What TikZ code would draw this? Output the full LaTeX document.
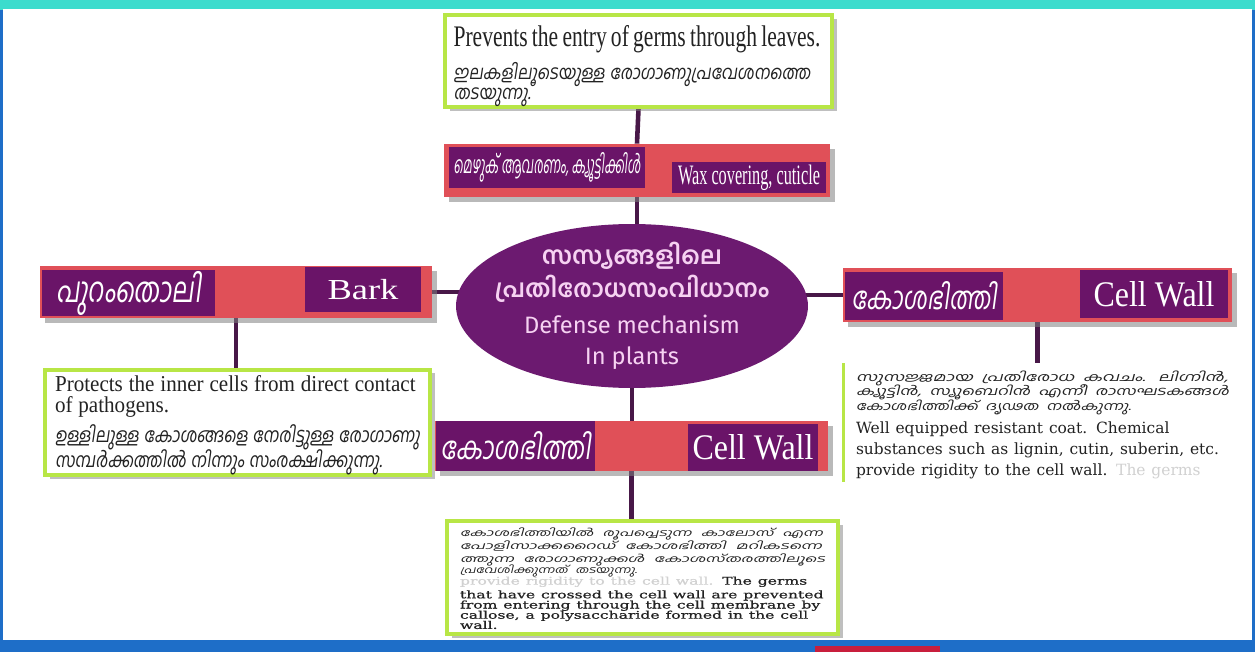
\documentclass[tikz,border=0pt]{standalone}
\usepackage{fontspec}
\usepackage{graphicx}
\usepackage{xcolor}
\setmainfont{Liberation Serif}
\newfontfamily\mlfont[Script=Malayalam]{Hind Kochi}
\newfontfamily\mlslant[Script=Malayalam,FakeSlant=0.18]{Hind Kochi}
\newfontfamily\noteserif[FakeStretch=0.93]{Liberation Serif}
\newfontfamily\wideserif{DejaVu Serif}
\newfontfamily\callosefont[FakeStretch=1.48,FakeBold=0.8]{DejaVu Serif}
\newfontfamily\ellsans{Fira Sans}
\usetikzlibrary{shapes.geometric, shadows, backgrounds}
\definecolor{barred}{RGB}{224,80,88}
\definecolor{tagpurple}{RGB}{106,20,104}
\definecolor{ellpurple}{RGB}{108,26,112}
\definecolor{linkpurple}{RGB}{72,24,72}
\definecolor{notegreen}{RGB}{184,230,70}
\definecolor{paleink}{RGB}{246,210,242}
\definecolor{topteal}{RGB}{60,220,205}
\definecolor{baseblue}{RGB}{30,110,200}
\definecolor{basered}{RGB}{200,30,60}
\definecolor{noteink}{RGB}{34,34,34}
\newcommand\fitline[2]{\resizebox{#1}{\height}{#2}}
\newcommand\spreadline[2]{\makebox[#1][s]{#2}}
\newcommand\topstrut[1]{\rule{0pt}{#1}}
\newcommand\bottomstrut[1]{\rule[-#1]{0pt}{#1}}

\begin{document}
\begin{tikzpicture}[x=0.02cm, y=-0.02cm,
    bar/.style={fill=barred, inner sep=0pt, drop shadow={shadow xshift=3pt, shadow yshift=-3pt, opacity=0.55}},
    tag/.style={fill=tagpurple, text=white, inner sep=0pt},
    note/.style={fill=white, draw=notegreen, line width=2pt, inner sep=0pt, text=noteink, align=left},
    shadowed/.style={drop shadow={shadow xshift=3pt, shadow yshift=-2pt, opacity=0.5}},
    link/.style={draw=linkpurple, line width=2.6pt},
]
    \useasboundingbox (0,0) rectangle (1255,652);

    % top note and wax covering
    \node[note, shadowed, minimum width=7.74cm, minimum height=1.84cm, text width=7.4cm] (leaf) at (638.5,61)
        {{\topstrut{17.6pt}\fitline{7.34cm}{\fontsize{17}{20}\selectfont Prevents the entry of germs through leaves.}\par}\vspace{8pt}
         {\mlslant\fontsize{11}{11.3}\selectfont\lineskiplimit=-10pt
          \fitline{7.14cm}{ഇലകളിലൂടെയുള്ള രോഗാണുപ്രവേശനത്തെ}\\ \fitline{1.54cm}{തടയുന്നു.}\bottomstrut{4pt}\par}};
    \node[bar, minimum width=7.72cm, minimum height=1.06cm] (wax) at (637,170.5) {};
    \node[tag, minimum width=3.92cm, minimum height=0.82cm] (waxml) at (547,167.5)
        {\mlslant\fontsize{13.5}{15}\selectfont\fitline{3.74cm}{മെഴുക് ആവരണം, ക്യൂട്ടിക്കിൾ}};
    \node[tag, minimum width=3.08cm, minimum height=0.62cm] (waxen) at (749,177.5)
        {\fontsize{16}{18}\selectfont\fitline{2.84cm}{Wax covering, cuticle}};

    % centre
    \node[ellipse, fill=ellpurple, minimum width=7.04cm, minimum height=3.28cm, inner sep=0pt] (defense) at (632,306) {};
    \node[text=paleink, text width=6cm, align=center, inner sep=0pt] (defensetext) at (defense)
        {{\mlfont\bfseries\fontsize{14}{19}\selectfont സസ്യങ്ങളിലെ\\ \fitline{5.5cm}{പ്രതിരോധസംവിധാനം}\par}\vspace{3pt}
         {\ellsans\fontsize{13.5}{17.5}\selectfont Defense mechanism\\ In plants\par}};

    % bark
    \node[bar, minimum width=7.84cm, minimum height=1.04cm] (bark) at (236,292) {};
    \node[tag, minimum width=3.46cm, minimum height=0.92cm] (barkml) at (128.5,293)
        {\mlslant\fontsize{20}{22}\selectfont\fitline{2.9cm}{പുറംതൊലി}};
    \node[tag, minimum width=2.32cm, minimum height=0.9cm] (barken) at (363,289.5)
        {\fontsize{16.5}{18}\selectfont\fitline{1.42cm}{Bark}};
    \node[note, shadowed, minimum width=7.7cm, minimum height=2.1cm, text width=7.3cm] (barknote) at (237.5,422.5)
        {{\noteserif\fontsize{12.9}{11.9}\selectfont\lineskiplimit=-10pt
          \topstrut{12.5pt}\spreadline{7.3cm}{Protects the inner cells from direct contact}\\ of pathogens.\par}\vspace{2.8pt}
         {\mlslant\fontsize{11.5}{14.2}\selectfont\lineskiplimit=-10pt
          \fitline{7.3cm}{ഉള്ളിലുള്ള കോശങ്ങളെ നേരിട്ടുള്ള രോഗാണു}\\
          \fitline{6.54cm}{സമ്പർക്കത്തിൽ നിന്നും സംരക്ഷിക്കുന്നു.}\bottomstrut{4pt}\par}};

    % cell wall, right
    \node[bar, minimum width=7.78cm, minimum height=1.08cm] (wallright) at (1037.5,295) {};
    \node[tag, minimum width=3.16cm, minimum height=0.96cm] (wallrightml) at (924,296)
        {\mlslant\fontsize{18}{20}\selectfont\fitline{2.9cm}{കോശഭിത്തി}};
    \node[tag, minimum width=2.96cm, minimum height=0.96cm] (wallrighten) at (1154,294)
        {\fontsize{20.5}{22}\selectfont\fitline{2.42cm}{Cell Wall}};
    \node[note, draw=none, minimum width=7.9cm, minimum height=2.3cm, text width=7.46cm] (cellnote) at (1042.5,422.5)
        {{\mlslant\fontsize{6.8}{8.2}\selectfont\lineskiplimit=-10pt
          \topstrut{9.1pt}\fitline{7.44cm}{സുസജ്ജമായ പ്രതിരോധ കവചം. ലിഗ്നിൻ,}\\
          \fitline{7.46cm}{ക്യൂട്ടിൻ, സ്യൂബെറിൻ എന്നീ രാസഘടകങ്ങൾ}\\
          \fitline{5.5cm}{കോശഭിത്തിക്ക് ദൃഢത നൽകുന്നു.}\par}\vspace{1.7pt}
         {\wideserif\fontsize{8.8}{11.9}\selectfont\lineskiplimit=-10pt
          \spreadline{7.44cm}{Well equipped resistant coat. Chemical}\\
          \spreadline{7.44cm}{substances such as lignin, cutin, suberin, etc.}\\
          \spreadline{7.44cm}{provide rigidity to the cell wall. \textcolor{black!18}{The germs}}\bottomstrut{2.3pt}\par}};
    \draw[notegreen, line width=2pt] (cellnote.north west) -- (cellnote.south west);

    % cell wall, bottom
    \node[bar, minimum width=7.86cm, minimum height=1.0cm] (wallbottom) at (631.5,446) {};
    \node[tag, minimum width=3.2cm, minimum height=1.0cm] (wallbottomml) at (515.5,446)
        {\mlslant\fontsize{18}{20}\selectfont\fitline{3.0cm}{കോശഭിത്തി}};
    \node[tag, minimum width=2.6cm, minimum height=0.94cm] (wallbottomen) at (753,447.5)
        {\fontsize{20.5}{22}\selectfont\fitline{2.42cm}{Cell Wall}};
    \node[note, shadowed, minimum width=7.82cm, minimum height=2.26cm, text width=7.3cm] (callosenote) at (642.5,577.5)
        {{\mlslant\fontsize{5.6}{7.4}\selectfont\lineskiplimit=-10pt
          \topstrut{8.5pt}\fitline{7.26cm}{കോശഭിത്തിയിൽ രൂപപ്പെടുന്ന കാലോസ് എന്ന}\\
          \fitline{7.24cm}{പോളിസാക്കറൈഡ് കോശഭിത്തി മറികടന്നെ}\\
          \fitline{7.3cm}{ത്തുന്ന രോഗാണുക്കൾ കോശസ്തരത്തിലൂടെ}\\[-1pt]
          \fitline{3.54cm}{പ്രവേശിക്കുന്നത് തടയുന്നു.}\par}\vspace{0.6pt}
         {\callosefont\fontsize{6}{5.8}\selectfont\lineskiplimit=-10pt
          \spreadline{7.3cm}{\textcolor{black!18}{provide rigidity to the cell wall.} The germs}\\[2pt]
          \spreadline{7.3cm}{that have crossed the cell wall are prevented}\\
          \spreadline{7.3cm}{from entering through the cell membrane by}\\
          \spreadline{7.3cm}{callose, a polysaccharide formed in the cell}\\
          wall.\bottomstrut{2.8pt}\par}};

    \begin{scope}[on background layer]
        \fill[baseblue] (0,0) rectangle (1255,652);
        \fill[topteal] (0,0) rectangle (1255,10);
        \fill[white] (3,9) rectangle (1252,640);
        \fill[basered] (815,646) rectangle (940,652);
        \draw[link] (leaf.south) -- (wax.north);
        \draw[link] (wax.south) -- (wax.south |- defense.center);
        \draw[link] (bark.east) -- (bark.east -| defense.center);
        \draw[link] (wallright.west) -- (wallright.west -| defense.center);
        \draw[link] (defense.center) -- (defense.center |- wallbottom.north);
        \draw[link] (wallbottom.south) -- (wallbottom.south |- callosenote.north);
        \draw[link] (bark.south) -- (bark.south |- barknote.north);
        \draw[link] (wallright.south) -- (wallright.south |- cellnote.north);
    \end{scope}
\end{tikzpicture}
\end{document}
